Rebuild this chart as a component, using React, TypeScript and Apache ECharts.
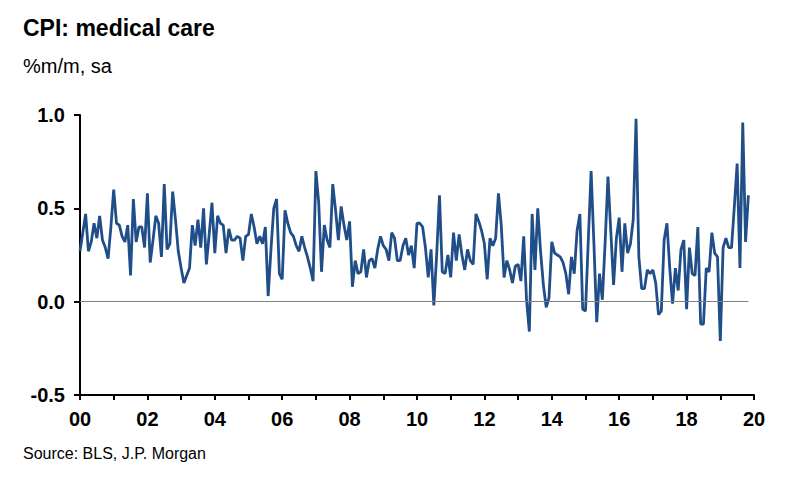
import React, { useEffect, useRef } from 'react';
import * as echarts from 'echarts';

// Monthly % m/m (sa), Jan 2000 .. Nov 2019
const y2000 = [0.27, 0.37, 0.47, 0.27, 0.32, 0.42, 0.34, 0.46, 0.33, 0.29, 0.23, 0.40];
const y2001 = [0.60, 0.42, 0.41, 0.35, 0.32, 0.41, 0.14, 0.55, 0.32, 0.40, 0.40, 0.29];
const y2002 = [0.58, 0.21, 0.33, 0.46, 0.42, 0.24, 0.63, 0.28, 0.31, 0.59, 0.44, 0.27];
const y2003 = [0.18, 0.10, 0.14, 0.18, 0.41, 0.30, 0.44, 0.29, 0.50, 0.20, 0.36, 0.53];
const y2004 = [0.26, 0.46, 0.42, 0.41, 0.26, 0.39, 0.33, 0.33, 0.35, 0.34, 0.22, 0.35];
const y2005 = [0.36, 0.47, 0.40, 0.31, 0.35, 0.31, 0.40, 0.03, 0.28, 0.50, 0.55, 0.15];
const y2006 = [0.12, 0.49, 0.42, 0.37, 0.35, 0.30, 0.27, 0.35, 0.29, 0.24, 0.18, 0.11];
const y2007 = [0.70, 0.53, 0.16, 0.41, 0.33, 0.29, 0.63, 0.49, 0.33, 0.51, 0.41, 0.33];
const y2008 = [0.43, 0.08, 0.22, 0.15, 0.16, 0.28, 0.13, 0.22, 0.23, 0.18, 0.28, 0.35];
const y2009 = [0.30, 0.28, 0.22, 0.37, 0.34, 0.22, 0.22, 0.30, 0.34, 0.25, 0.30, 0.18];
const y2010 = [0.42, 0.42, 0.40, 0.29, 0.13, 0.28, -0.02, 0.25, 0.57, 0.16, 0.15, 0.25];
const y2011 = [0.13, 0.37, 0.22, 0.36, 0.25, 0.17, 0.28, 0.22, 0.20, 0.47, 0.43, 0.38];
const y2012 = [0.31, 0.12, 0.34, 0.30, 0.34, 0.58, 0.41, 0.13, 0.22, 0.17, 0.10, 0.19];
const y2013 = [0.20, 0.11, 0.35, 0.01, -0.16, 0.47, 0.17, 0.50, 0.27, 0.09, -0.03, 0.02];
const y2014 = [0.32, 0.26, 0.25, 0.24, 0.21, 0.15, 0.04, 0.24, 0.15, 0.38, 0.47, -0.04];
const y2015 = [-0.05, 0.33, 0.70, 0.31, -0.11, 0.15, 0.01, 0.32, 0.67, 0.38, 0.09, 0.34];
const y2016 = [0.45, 0.16, 0.42, 0.26, 0.31, 0.44, 0.98, 0.24, 0.07, 0.07, 0.17, 0.15];
const y2017 = [0.17, 0.10, -0.07, -0.05, 0.33, 0.42, 0.18, -0.01, 0.18, 0.06, 0.28, 0.33];
const y2018 = [-0.04, 0.29, 0.15, 0.14, 0.40, -0.12, -0.12, 0.18, 0.16, 0.37, 0.26, 0.24];
const y2019 = [-0.21, 0.29, 0.34, 0.29, 0.29, 0.51, 0.74, 0.18, 0.96, 0.32, 0.57];

const values = [
  ...y2000, ...y2001, ...y2002, ...y2003, ...y2004, ...y2005, ...y2006,
  ...y2007, ...y2008, ...y2009, ...y2010, ...y2011, ...y2012, ...y2013,
  ...y2014, ...y2015, ...y2016, ...y2017, ...y2018, ...y2019,
];

const startYear = 2000;
const endYear = 2020;
// Monthly categories from Jan 2000 to Jan 2020 (axis end)
const months: string[] = [];
for (let y = startYear; y < endYear; y++) {
  for (let m = 1; m <= 12; m++) months.push(`${y}-${String(m).padStart(2, '0')}`);
}
months.push(`${endYear}-01`);

const yTicks = { min: -0.5, max: 1.0, interval: 0.5 };

const titleText = 'CPI: medical care';
const subtitleText = '%m/m, sa';
const sourceText = 'Source: BLS, J.P. Morgan';

const FONT = '"Liberation Sans", Arial, sans-serif';

export default function App() {
  const ref = useRef<HTMLDivElement>(null);
  useEffect(() => {
    if (!ref.current) return;
    const chart = echarts.init(ref.current, null, { renderer: 'svg' });
    chart.setOption({
      animation: false,
      backgroundColor: '#ffffff',
      textStyle: { fontFamily: FONT },
      grid: { left: 80, right: 46, top: 115, bottom: 85, containLabel: false },
      graphic: [
        {
          type: 'text', left: 23, top: 16,
          style: { text: titleText, font: `bold 23px ${FONT}`, fill: '#000' },
        },
        {
          type: 'text', left: 23, top: 56,
          style: { text: subtitleText, font: `20px ${FONT}`, fill: '#000' },
        },
        {
          type: 'text', left: 23, top: 445,
          style: { text: sourceText, font: `16px ${FONT}`, fill: '#000' },
        },
      ],
      xAxis: {
        type: 'category',
        data: months,
        boundaryGap: false,
        axisLine: { onZero: false, lineStyle: { color: '#000', width: 2 } },
        axisTick: { show: true, interval: 11, length: 5, lineStyle: { color: '#000', width: 2 } },
        axisLabel: {
          interval: 23,
          margin: 14,
          color: '#000',
          fontSize: 20,
          fontWeight: 'bold',
          fontFamily: FONT,
          formatter: (v: string) => v.slice(2, 4),
        },
        splitLine: { show: false },
      },
      yAxis: {
        type: 'value',
        min: yTicks.min,
        max: yTicks.max,
        interval: yTicks.interval,
        axisLine: { show: true, lineStyle: { color: '#000', width: 2 } },
        axisTick: { show: true, length: 6, lineStyle: { color: '#000', width: 2 } },
        axisLabel: {
          margin: 15,
          color: '#000',
          fontSize: 20,
          fontWeight: 'bold',
          fontFamily: FONT,
          formatter: (v: number) => v.toFixed(1),
        },
        splitLine: { show: false },
      },
      series: [
        {
          type: 'line',
          data: values,
          symbol: 'none',
          showSymbol: false,
          lineStyle: { color: '#1f4e89', width: 2.8 },
          markLine: {
            silent: true,
            symbol: 'none',
            label: { show: false },
            lineStyle: { color: '#808080', width: 1, type: 'solid' },
            data: [[{ xAxis: 0, yAxis: 0 }, { xAxis: values.length - 1, yAxis: 0 }]],
          },
          z: 3,
        },
      ],
    });
    return () => chart.dispose();
  }, []);
  return (
    <div
      ref={ref}
      style={{ position: 'fixed', left: 0, top: 0, width: 800, height: 480 }}
    />
  );
}
